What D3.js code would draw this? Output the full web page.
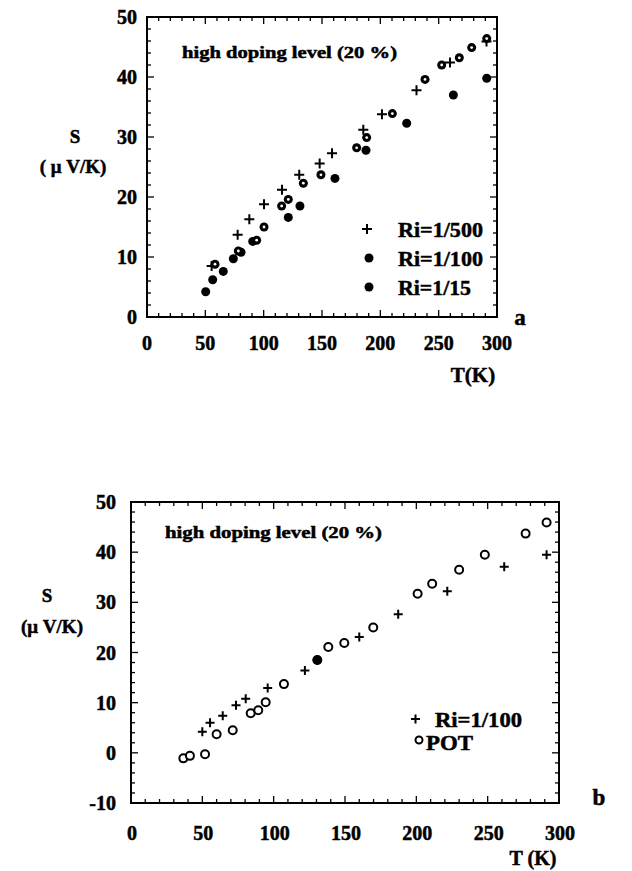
<!DOCTYPE html>
<html><head><meta charset="utf-8">
<script src="https://cdn.jsdelivr.net/npm/d3@7"></script>
<style>body{margin:0;background:#fff}svg{display:block}text{font-family:"Liberation Serif","Times New Roman",serif;font-weight:700;fill:#000;stroke:#000;stroke-width:0.5px}</style>
</head><body><svg id="c" width="632" height="871"></svg>
<script>
// Panel a data: T (K), S (uV/K)
const aRi500T = [55.4, 77.7, 87.7, 100.3, 115.7, 130.5, 148, 158.6, 185.4, 201.4, 231, 259.7, 291];
const aRi500S = [8.5, 13.7, 16.3, 18.8, 21.2, 23.7, 25.6, 27.3, 31.2, 33.8, 37.8, 42.4, 45.9];
const aRi100T = [50.3, 56.3, 65.4, 74, 80.6, 90.6, 121.1, 131.1, 161.1, 187.7, 222.6, 262.6, 291.2];
const aRi100S = [4.2, 6.2, 7.6, 9.7, 10.8, 12.6, 16.6, 18.5, 23.1, 27.8, 32.3, 37, 39.8];
const aRi15T = [58.3, 78.3, 94, 100.3, 115.4, 121.1, 134, 149.1, 179.7, 188.3, 210.3, 238.3, 252.6, 267.7, 278.3, 291.2];
const aRi15S = [8.8, 11, 12.8, 15, 18.5, 19.6, 22.3, 23.7, 28.2, 29.9, 33.9, 39.6, 42, 43.2, 44.9, 46.4];
// Panel b data
const bRi100T = [50, 55.4, 64.3, 73.6, 80.4, 95.8, 121.9, 130.6, 160, 187.3, 221.7, 261.6, 291.3];
const bRi100S = [4.2, 6, 7.4, 9.5, 10.8, 12.9, 16.4, 18.5, 23.1, 27.6, 32.2, 37.1, 39.5];
const bPotT = [36.7, 41.3, 51.9, 60, 71.3, 83.9, 89.2, 94.4, 107.2, 130.6, 138.3, 149.5, 169.8, 200.9, 211.1, 230, 248, 276.6, 291.3];
const bPotS = [-1.1, -0.6, -0.3, 3.7, 4.5, 7.9, 8.5, 10.1, 13.7, 18.5, 21.1, 21.9, 25, 31.7, 33.7, 36.5, 39.5, 43.7, 45.9];
// Tick labels
const xTicks = [0, 50, 100, 150, 200, 250, 300];
const aYTicks = [0, 10, 20, 30, 40, 50];
const bYTicks = [-10, 0, 10, 20, 30, 40, 50];
const titleText = "high doping level (20 %)";
const aLegend = ["Ri=1/500", "Ri=1/100", "Ri=1/15"];
const bLegend = ["Ri=1/100", "POT"];

const svg = d3.select("#c");
const zip = (t, s) => t.map((v, i) => [v, s[i]]);

function frame(g, x, y, yDomain) {
  const [x0, x1] = x.range(), [y0, y1] = y.range();
  g.append("rect").attr("x", x0).attr("y", y1).attr("width", x1 - x0).attr("height", y0 - y1)
    .attr("fill", "none").attr("stroke", "#000").attr("stroke-width", 2);
  const tickG = g.append("g").attr("stroke", "#000").attr("stroke-width", 1.3);
  d3.range(0, 301, 10).forEach(t => {
    const L = t % 50 === 0 ? 7 : 4, px = x(t);
    tickG.append("line").attr("x1", px).attr("x2", px).attr("y1", y0).attr("y2", y0 - L);
    tickG.append("line").attr("x1", px).attr("x2", px).attr("y1", y1).attr("y2", y1 + L);
  });
  d3.range(yDomain[0], yDomain[1] + 0.01, 2).forEach(s => {
    const L = s % 10 === 0 ? 7 : 4, py = y(s);
    tickG.append("line").attr("x1", x0).attr("x2", x0 + L).attr("y1", py).attr("y2", py);
    tickG.append("line").attr("x1", x1).attr("x2", x1 - L).attr("y1", py).attr("y2", py);
  });
}

function plus(g, pts, x, y, size) {
  g.selectAll(null).data(pts).join("path")
    .attr("d", d => `M${x(d[0]) - size},${y(d[1])}h${2 * size}M${x(d[0])},${y(d[1]) - size}v${2 * size}`)
    .attr("stroke", "#000").attr("stroke-width", 2).attr("fill", "none");
}
function dotFilled(g, pts, x, y, r) {
  g.selectAll(null).data(pts).join("circle").attr("cx", d => x(d[0])).attr("cy", d => y(d[1])).attr("r", r).attr("fill", "#000");
}
function dotHole(g, pts, x, y, r) {
  dotFilled(g, pts, x, y, r);
  g.selectAll(null).data(pts).join("circle").attr("cx", d => x(d[0])).attr("cy", d => y(d[1])).attr("r", 1.4).attr("fill", "#fff");
}
function openCircle(g, pts, x, y, r) {
  g.selectAll(null).data(pts).join("circle").attr("cx", d => x(d[0])).attr("cy", d => y(d[1])).attr("r", r)
    .attr("fill", "#fff").attr("stroke", "#000").attr("stroke-width", 2);
}

// ---------- Panel a ----------
{
  const x = d3.scaleLinear().domain([0, 300]).range([147, 497]);
  const y = d3.scaleLinear().domain([0, 50]).range([317, 17]);
  const g = svg.append("g");
  frame(g, x, y, [0, 50]);
  g.selectAll(null).data(xTicks).join("text").attr("x", d => x(d)).attr("y", 350)
    .attr("text-anchor", "middle").attr("font-size", 20).text(d => d);
  g.selectAll(null).data(aYTicks).join("text").attr("x", 137).attr("y", d => y(d) + 7)
    .attr("text-anchor", "end").attr("font-size", 20).text(d => d);
  g.append("text").attr("x", 75).attr("y", 143).attr("text-anchor", "middle").attr("font-size", 19).text("S");
  g.append("text").attr("x", 73).attr("y", 173).attr("text-anchor", "middle").attr("font-size", 19).text("( μ V/K)");
  g.append("text").attr("x", 473).attr("y", 382).attr("text-anchor", "middle").attr("font-size", 21).text("T(K)");
  g.append("text").attr("x", 520).attr("y", 325).attr("text-anchor", "middle").attr("font-size", 23).text("a");
  g.append("text").attr("x", 182).attr("y", 58).attr("font-size", 17)
    .attr("textLength", 215).attr("lengthAdjust", "spacingAndGlyphs").text(titleText);
  plus(g, zip(aRi500T, aRi500S), x, y, 5);
  dotFilled(g, zip(aRi100T, aRi100S), x, y, 4.5);
  dotHole(g, zip(aRi15T, aRi15S), x, y, 4.5);
  // legend
  const ly = [229, 258, 287];
  g.append("path").attr("d", `M${367 - 5},${ly[0]}h10M367,${ly[0] - 5}v10`).attr("stroke", "#000").attr("stroke-width", 2);
  g.append("circle").attr("cx", 369).attr("cy", ly[1]).attr("r", 4.5).attr("fill", "#000");
  g.append("circle").attr("cx", 369).attr("cy", ly[2]).attr("r", 4.5).attr("fill", "#000");
  g.selectAll(".lg").data(aLegend).join("text").attr("x", 398).attr("y", (d, i) => ly[i] + 8)
    .attr("font-size", 22).attr("textLength", (d, i) => i === 2 ? 73 : 85).attr("lengthAdjust", "spacingAndGlyphs").text(d => d);
}

// ---------- Panel b ----------
{
  const x = d3.scaleLinear().domain([0, 300]).range([131, 559]);
  const y = d3.scaleLinear().domain([-10, 50]).range([803, 502]);
  const g = svg.append("g");
  frame(g, x, y, [-10, 50]);
  g.selectAll(null).data(xTicks).join("text").attr("x", d => x(d) + 1).attr("y", 840)
    .attr("text-anchor", "middle").attr("font-size", 20).text(d => d);
  g.selectAll(null).data(bYTicks).join("text").attr("x", 116).attr("y", d => y(d) + 7)
    .attr("text-anchor", "end").attr("font-size", 20).text(d => d);
  g.append("text").attr("x", 47).attr("y", 602).attr("text-anchor", "middle").attr("font-size", 19).text("S");
  g.append("text").attr("x", 52).attr("y", 633).attr("text-anchor", "middle").attr("font-size", 19).text("(μ V/K)");
  g.append("text").attr("x", 533).attr("y", 865).attr("text-anchor", "middle").attr("font-size", 20).text("T (K)");
  g.append("text").attr("x", 599).attr("y", 805).attr("text-anchor", "middle").attr("font-size", 23).text("b");
  g.append("text").attr("x", 165).attr("y", 538).attr("font-size", 17)
    .attr("textLength", 217).attr("lengthAdjust", "spacingAndGlyphs").text(titleText);
  openCircle(g, zip(bPotT, bPotS), x, y, 4);
  plus(g, zip(bRi100T, bRi100S), x, y, 4.5);
  // point where both series coincide is drawn solid
  const both = zip(bRi100T, bRi100S).filter(d => bPotT.some((t, i) => t === d[0] && bPotS[i] === d[1]));
  dotFilled(g, both, x, y, 4.5);
  // legend
  g.append("path").attr("d", `M411,719h9M415.5,714.5v9`).attr("stroke", "#000").attr("stroke-width", 2);
  g.append("circle").attr("cx", 419).attr("cy", 740).attr("r", 3.5).attr("fill", "#fff").attr("stroke", "#000").attr("stroke-width", 2);
  g.append("text").attr("x", 435).attr("y", 727).attr("font-size", 22).attr("textLength", 87).attr("lengthAdjust", "spacingAndGlyphs").text(bLegend[0]);
  g.append("text").attr("x", 426).attr("y", 750).attr("font-size", 22).attr("textLength", 47).attr("lengthAdjust", "spacingAndGlyphs").text(bLegend[1]);
}
</script></body></html>
